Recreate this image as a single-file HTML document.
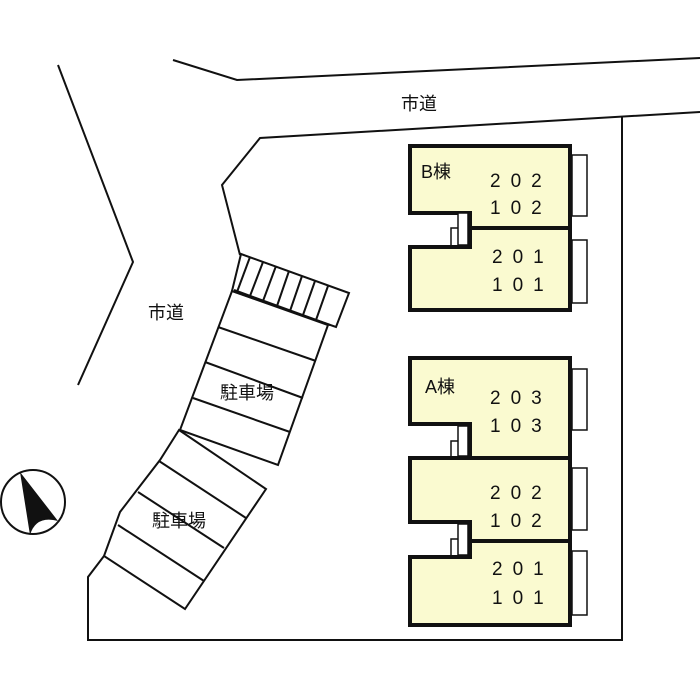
<!DOCTYPE html><html><head><meta charset="utf-8"><style>body{margin:0;background:#fff}svg{display:block}text{font-family:"Liberation Sans","Noto Sans CJK JP",sans-serif;fill:#111}</style></head><body>
<svg width="700" height="700" viewBox="0 0 700 700" xmlns="http://www.w3.org/2000/svg">
<g fill="none" stroke="#111" stroke-width="2">
<polyline points="58,65 133,262 78,385"/>
<polyline points="173,60 237,80 700,58"/>
<polyline points="700,112 260,138 222,185 240,255"/>
<polyline points="622,116 622,640 88,640 88,577 104,556"/>
<polygon points="241,254 349,293 336,327 232,291"/>
<line x1="234" y1="290" x2="330" y2="325"/>
<line x1="250" y1="257" x2="237" y2="292"/><line x1="263" y1="262" x2="250" y2="296"/><line x1="276" y1="266" x2="263" y2="301"/><line x1="289" y1="271" x2="277" y2="306"/><line x1="302" y1="276" x2="290" y2="311"/><line x1="315" y1="281" x2="303" y2="315"/><line x1="328" y1="286" x2="316" y2="320"/>
<polygon points="232,291 328,325 278,465 180,430"/>
<line x1="218" y1="327" x2="316" y2="361"/><line x1="205" y1="362" x2="303" y2="398"/><line x1="193" y1="398" x2="290" y2="432"/>
<polygon points="179,430 266,489 185,609 104,556 120,512 160,460"/>
<line x1="159" y1="461" x2="246" y2="518"/><line x1="138" y1="492" x2="224" y2="548"/><line x1="118" y1="525" x2="204" y2="581"/>
<circle cx="33" cy="502" r="32"/>
</g>
<path d="M20,472 L58,521 Q36,515 30,535 Z" fill="#111"/>
<g stroke="#111" stroke-width="1.5" fill="#fff">
<rect x="572" y="155" width="15" height="61"/><rect x="572" y="240" width="15" height="63"/>
<rect x="572" y="369" width="15" height="61"/><rect x="572" y="468" width="15" height="62"/><rect x="572" y="551" width="15" height="64"/>
<rect x="451" y="228" width="11" height="19"/><rect x="451" y="441" width="11" height="17"/><rect x="451" y="539" width="11" height="18"/>
</g>
<g stroke="#111" stroke-width="4" fill="#fafad0">
<path d="M410,146 H570 V310 H410 V247 H470 V213 H410 Z"/>
<path d="M410,358 H570 V625 H410 V557 H470 V522 H410 V458 H470 V424 H410 Z"/>
</g>
<g stroke="#111" stroke-width="4" fill="none">
<line x1="470" y1="228" x2="570" y2="228"/>
<line x1="410" y1="458" x2="570" y2="458"/><line x1="470" y1="541" x2="570" y2="541"/>
</g>
<g stroke="#111" stroke-width="1.5" fill="#fff"><rect x="458" y="213" width="10" height="32"/><rect x="458" y="426" width="10" height="30"/><rect x="458" y="524" width="10" height="31"/></g>
<g font-size="19" letter-spacing="10">
<text x="490" y="187">202</text><text x="490" y="214">102</text>
<text x="492" y="263">201</text><text x="492" y="291">101</text>
<text x="490" y="404">203</text><text x="490" y="432">103</text>
<text x="490" y="499">202</text><text x="490" y="527">102</text>
<text x="492" y="575">201</text><text x="492" y="604">101</text>
</g>
<g font-size="18">
<text x="421" y="178">B棟</text><text x="425" y="393">A棟</text>
<text x="401" y="110">市道</text><text x="148" y="319">市道</text>
<text x="220" y="399">駐車場</text><text x="152" y="527">駐車場</text>
</g>
</svg></body></html>
